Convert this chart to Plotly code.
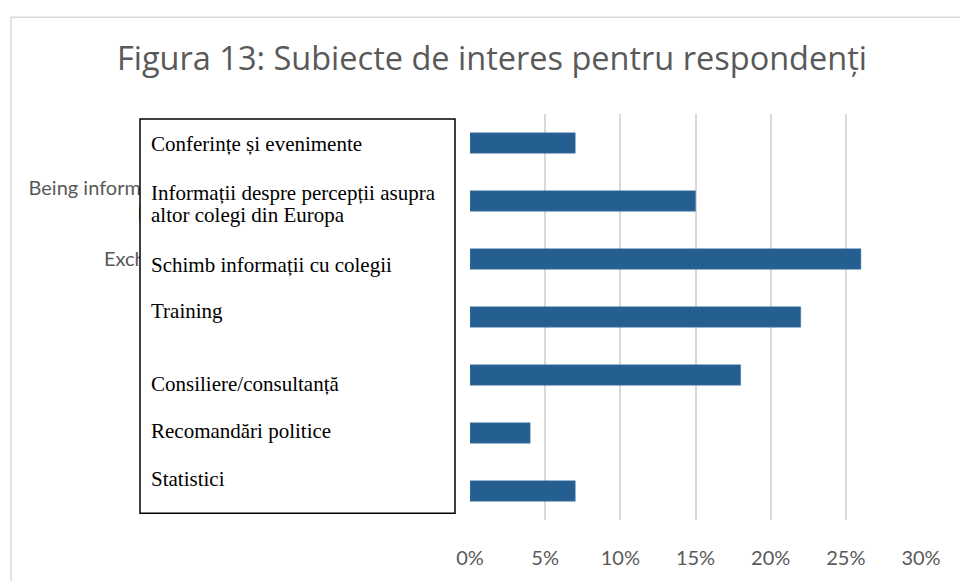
import plotly.graph_objects as go

# ---- data ----
categories_en = [
    "Conferences and events",
    "Being informed about the perceptions of fellows<br>like-minded colleagues from Europe",
    "Exchanging information with colleagues",
    "Training",
    "Advice/consultancy",
    "Policy recommendations",
    "Statistics",
]
labels_ro = [
    "Conferințe și evenimente",
    "Informații despre percepții asupra<br>altor colegi din Europa",
    "Schimb informații cu colegii",
    "Training",
    "Consiliere/consultanță",
    "Recomandări politice",
    "Statistici",
]
values = [0.07, 0.15, 0.26, 0.22, 0.18, 0.04, 0.07]
x_ticks = [0, 0.05, 0.10, 0.15, 0.20, 0.25, 0.30]
title_text = "Figura 13: Subiecte de interes pentru respondenți"

# ---- layout geometry (pixels) ----
W, H = 960, 581
PLOT_LEFT, PLOT_RIGHT = 470, 921
PLOT_TOP, PLOT_BOTTOM = 114, 529
ML, MR, MT, MB = PLOT_LEFT, W - PLOT_RIGHT, PLOT_TOP, H - PLOT_BOTTOM
PW, PH = PLOT_RIGHT - PLOT_LEFT, PLOT_BOTTOM - PLOT_TOP

def px_x(p):
    return (p - PLOT_LEFT) / PW

def px_y(p):
    return (PLOT_BOTTOM - p) / PH

GRAY = "#595959"
BAR = "#255e91"

fig = go.Figure()
fig.add_trace(go.Bar(
    x=values,
    y=categories_en,
    orientation="h",
    width=0.35,
    marker=dict(color=BAR, line=dict(color="#4d7cab", width=0.6)),
    hoverinfo="skip",
))

# white overlay box with Romanian labels
label_shift = [-1, -3, -6, 6, -8.5, 2, 12]
LINE_GAP = 22.5
annotations = []
for cat, lab, sh in zip(categories_en, labels_ro, label_shift):
    lines = lab.split("<br>")
    n = len(lines)
    for i, ln in enumerate(lines):
        off = ((n - 1) / 2 - i) * LINE_GAP
        annotations.append(dict(
            x=px_x(149), xref="paper", xanchor="left",
            y=cat, yref="y", yanchor="middle", yshift=sh + off,
            text=ln, showarrow=False, align="left",
            font=dict(family="Liberation Serif, Times New Roman, serif", size=21, color="#000000"),
        ))

annotations.append(dict(
    x=px_x(492), xref="paper", xanchor="center",
    y=px_y(56), yref="paper", yanchor="middle",
    text=title_text, showarrow=False,
    font=dict(family="Open Sans, Lato, sans-serif", size=32.5, color=GRAY),
))

shapes = [
    # outer chart border
    dict(type="rect", xref="paper", yref="paper",
         x0=px_x(11), x1=px_x(975), y0=px_y(15), y1=px_y(600),
         line=dict(color="#d9d9d9", width=1.5), fillcolor="rgba(0,0,0,0)", layer="below"),
    # overlay box
    dict(type="rect", xref="paper", yref="paper",
         x0=px_x(140), x1=px_x(455), y0=px_y(119), y1=px_y(522),
         line=dict(color="#000000", width=1.5), fillcolor="#ffffff", layer="above"),
]

fig.update_layout(
    width=W, height=H,
    margin=dict(l=ML, r=MR, t=MT, b=MB, pad=0),
    paper_bgcolor="#ffffff", plot_bgcolor="#ffffff",
    showlegend=False,
    annotations=annotations,
    shapes=shapes,
    xaxis=dict(
        range=[0, 0.30], tickvals=x_ticks, tickformat=".0%",
        showgrid=True, gridcolor="#d9d9d9", gridwidth=1.5,
        zeroline=False, showline=False, ticks="",
        tickfont=dict(family="Lato, Open Sans, sans-serif", size=20, color=GRAY),
        ticklabelstandoff=24, fixedrange=True,
    ),
    yaxis=dict(
        type="category", autorange="reversed",
        showgrid=False, zeroline=False, showline=False, ticks="",
        tickfont=dict(family="Lato, Open Sans, sans-serif", size=20, color=GRAY),
        ticklabelstandoff=18, fixedrange=True,
    ),
)

fig.write_html("out.html")
